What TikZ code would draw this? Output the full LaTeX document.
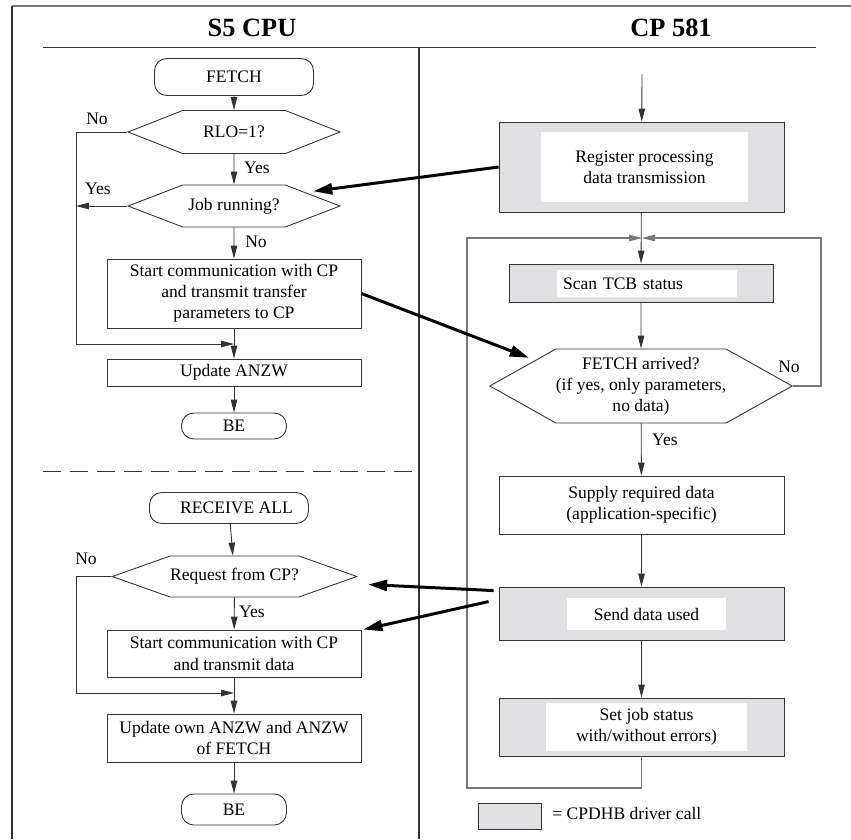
\documentclass[tikz,border=0pt]{standalone}
\usepackage{fontspec}
\setmainfont{Liberation Serif}
\usepackage{tikz}
\usetikzlibrary{arrows.meta, shapes.symbols, calc}
\definecolor{drvgray}{rgb}{0.88, 0.88, 0.89}
\definecolor{linegray}{rgb}{0.2, 0.2, 0.2}
\definecolor{loopgray}{rgb}{0.47, 0.47, 0.47}
\tikzstyle{term} = [draw=linegray, line width=0.5pt, rounded corners=7pt, inner sep=0pt, align=center]
\tikzstyle{proc} = [draw=linegray, line width=0.5pt, fill=white, inner sep=0pt, align=center]
\tikzstyle{decide} = [signal, signal to=east and west, draw=linegray, line width=0.5pt, inner sep=0pt, align=center]
\tikzstyle{drv} = [draw=linegray, line width=0.5pt, fill=drvgray, inner sep=0pt]
\tikzstyle{drvtext} = [fill=white, inner sep=0pt, align=center]
\tikzstyle{flow} = [linegray, line width=0.5pt, -{Triangle[length=2.6mm,width=1.3mm]}]
\tikzstyle{looparrow} = [loopgray, line width=0.6pt, -{Triangle[length=2.6mm,width=1.3mm]}]
\tikzstyle{bigarrow} = [black, line width=1.7pt, -{Triangle[length=3.8mm,width=2.2mm]}]
\tikzstyle{lbl} = [inner sep=0pt]
\tikzstyle{title} = [inner sep=0pt, font=\fontsize{15}{18}\selectfont\bfseries]

\begin{document}
\begin{tikzpicture}[x=0.02cm, y=-0.02cm]
\useasboundingbox (0,0) rectangle (851,839);
\draw[loopgray, line width=1.1pt] (12,6) -- (851,6);
\draw[linegray, line width=0.8pt] (12,6) -- (12,839);

\node[title] (cputitle) at (252,28) {S5 CPU};
\node[title] (cptitle) at (671,28) {CP 581};
\draw[linegray, line width=0.6pt] (43,47.7) -- (816,47.7);
\draw[linegray, line width=0.6pt] (419,47.7) -- (419,839);
\draw[linegray, line width=0.5pt, dash pattern=on 0.36cm off 0.18cm] (43,471) -- (419,471);

\node[term, minimum width=3.18cm, minimum height=0.74cm] (fetch) at (234,77) {FETCH};
\node[decide, minimum width=4.24cm, minimum height=0.86cm, signal pointer angle=43] (rlo) at (234,132) {RLO=1?};
\node[decide, minimum width=4.24cm, minimum height=0.84cm, signal pointer angle=42] (job) at (234,206) {Job running?};
\node[proc, minimum width=5.08cm, minimum height=1.38cm] (start) at (234,293.5) {Start communication with CP\\and transmit transfer\\parameters to CP};
\node[proc, minimum width=5.08cm, minimum height=0.54cm] (anzw) at (234,372.5) {Update ANZW};
\node[term, minimum width=2.1cm, minimum height=0.52cm] (be) at (234,426) {BE};

\node[term, minimum width=3.18cm, minimum height=0.62cm] (recv) at (229,508) {\hspace*{0.3cm}RECEIVE ALL};
\node[decide, minimum width=4.66cm, minimum height=0.82cm, signal pointer angle=39] (req) at (234.5,576.5) {Request from CP?};
\node[proc, minimum width=5.08cm, minimum height=0.94cm] (startb) at (234,653.5) {Start communication with CP\\and transmit data};
\node[proc, minimum width=5.08cm, minimum height=0.96cm] (anzwb) at (234,738) {Update own ANZW and ANZW\\of FETCH};
\node[term, minimum width=2.1cm, minimum height=0.62cm] (beb) at (234,809.5) {BE};

\node[drv, minimum width=5.7cm, minimum height=1.8cm] (reg) at (641.5,167) {};
\node[drvtext, minimum width=4.14cm, minimum height=1.4cm] (regtext) at (644.5,167) {Register processing\\data transmission};
\node[drv, minimum width=5.28cm, minimum height=0.76cm] (scan) at (641,283) {};
\node[drvtext, text width=3.36cm, minimum height=0.54cm, inner xsep=0.12cm, align=left] (scantext) at (647,283.5) {Scan TCB status};
\node[decide, minimum width=5.28cm, minimum height=1.48cm, signal pointer angle=58.5] (arrived) at (641,386) {FETCH arrived?\\(if yes, only parameters,\\no data)};
\node[proc, minimum width=5.7cm, minimum height=1.16cm] (supply) at (641.5,505) {Supply required data\\(application-specific)};
\node[drv, minimum width=5.7cm, minimum height=1.06cm] (send) at (641.5,613.5) {};
\node[drvtext, minimum width=3.18cm, minimum height=0.64cm] (sendtext) at (646.5,614) {Send data used};
\node[drv, minimum width=5.7cm, minimum height=1.16cm] (setjob) at (641.5,727) {};
\node[drvtext, minimum width=4.02cm, minimum height=0.96cm] (setjobtext) at (646.5,727) {Set job status\\with/without errors)};

\node[drv, minimum width=1.26cm, minimum height=0.52cm] (legend) at (509.5,816) {};
\node[lbl, anchor=west] (legendtext) at (552,813) {= CPDHB driver call};

\node[lbl] (rlono) at (97,119) {No};
\node[lbl] (rloyes) at (257,168) {Yes};
\node[lbl] (jobyes) at (98,189) {Yes};
\node[lbl] (jobno) at (256,242) {No};
\node[lbl] (reqno) at (86,559) {No};
\node[lbl] (reqyes) at (252,612) {Yes};
\node[lbl] (arrno) at (789,367) {No};
\node[lbl] (arryes) at (665,440) {Yes};

\coordinate (leftA) at (76,344);
\coordinate (mergeA) at (234,344);
\coordinate (leftB) at (76,693);
\coordinate (mergeB) at (234,693);
\coordinate (cpin) at (642,74);
\coordinate (join) at (642,238);
\coordinate (loopBL) at (467,788);
\coordinate (loopTL) at (467,238);
\coordinate (loopR) at (821,238);

\draw[flow] (fetch) -- (rlo);
\draw[flow] (rlo) -- (job);
\draw[flow] (job) -- (start);
\draw[flow] (start) -- (anzw);
\draw[flow] (anzw) -- (be);
\draw[flow] (rlo.west) -| (leftA) -- (mergeA);
\draw[flow] (job.west) -- (job.west -| leftA);

\draw[flow] (recv) -- (req);
\draw[flow] (req) -- (startb);
\draw[flow] (startb) -- (anzwb);
\draw[flow] (anzwb) -- (beb);
\draw[flow] (req.west) -| (leftB) -- (mergeB);

\draw[flow] (cpin) -- (reg);
\draw[flow] (reg) -- (scan);
\draw[flow] (scan) -- (arrived);
\draw[flow] (arrived) -- (supply);
\draw[flow] (supply) -- (send);
\draw[flow] (send) -- (setjob);
\draw[looparrow] (setjob.south) |- (loopBL) -- (loopTL) -- (join);
\draw[looparrow] (arrived.east) -| (loopR) -- (join);

\draw[bigarrow] (reg.west) -- ($(job.east)!0.5!(job.north east)+(0,-4)$);
\draw[bigarrow] (start.east) -- ($(arrived.west)!0.6!(arrived.north west)+(0,-6)$);
\draw[bigarrow] ($(send.north west)+(-5,4)$) -- ($(req.east)+(10,8)$);
\draw[bigarrow] ($(send.north west)+(-10,15)$) -- ($(startb.north east)+(2,0)$);
\end{tikzpicture}
\end{document}
